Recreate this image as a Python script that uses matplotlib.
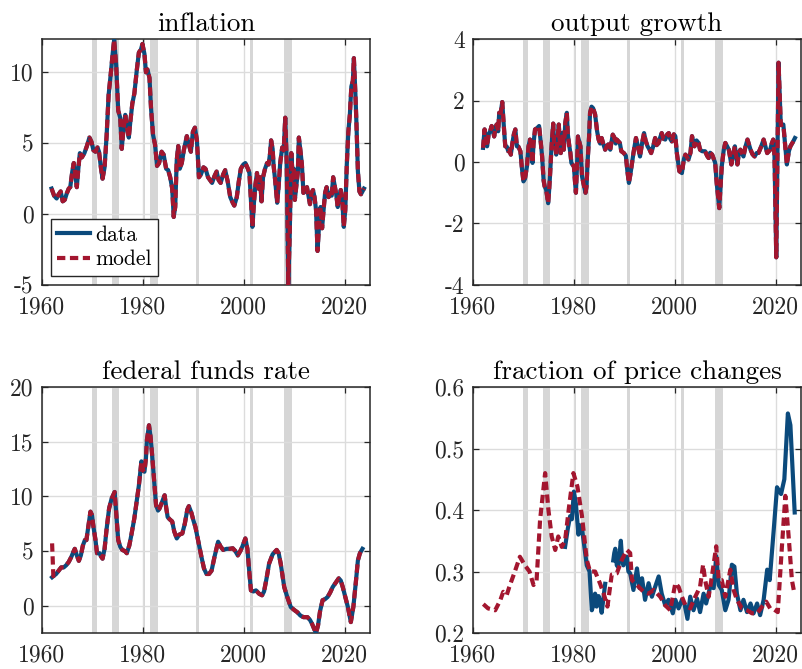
import numpy as np
import matplotlib
matplotlib.use("Agg")
import matplotlib.pyplot as plt

# NBER recessions (start, end)
recessions = [(1969.9, 1970.9), (1973.9, 1975.2), (1980.0, 1980.5), (1981.5, 1982.9),
              (1990.5, 1991.2), (2001.2, 2001.9), (2007.9, 2009.5), (2020.1, 2020.3)]

# inflation (data and model coincide)
infl_years = [1961.9, 1962.4, 1962.9, 1963.3, 1963.7, 1964.1, 1964.5, 1964.9, 1965.3, 1965.6,
              1966.0, 1966.3, 1966.6, 1966.9, 1967.2, 1967.5, 1967.9, 1968.4, 1968.9, 1969.4,
              1969.8, 1970.2, 1970.6, 1971.0, 1971.3, 1971.7, 1972.0, 1972.4, 1972.8, 1973.2,
              1973.6, 1974.0, 1974.3, 1974.7, 1975.1, 1975.5, 1975.8, 1976.1, 1976.5, 1976.9,
              1977.2, 1977.5, 1977.9, 1978.3, 1978.8, 1979.2, 1979.6, 1979.9, 1980.3, 1980.6,
              1980.9, 1981.3, 1981.6, 1982.0, 1982.4, 1982.8, 1983.2, 1983.7, 1984.1, 1984.6,
              1985.0, 1985.4, 1985.8, 1986.1, 1986.4, 1986.7, 1987.0, 1987.3, 1987.7, 1988.1,
              1988.7, 1989.1, 1989.5, 1989.9, 1990.3, 1990.7, 1991.1, 1991.5, 1992.0, 1992.4,
              1992.9, 1993.3, 1993.7, 1994.2, 1994.6, 1995.0, 1995.4, 1995.9, 1996.3, 1996.8,
              1997.3, 1997.8, 1998.1, 1998.6, 1999.0, 1999.4, 1999.9, 2000.3, 2000.8, 2001.1,
              2001.4, 2001.7, 2002.0, 2002.3, 2002.6, 2002.9, 2003.2, 2003.5, 2003.8, 2004.2,
              2004.6, 2004.9, 2005.2, 2005.4, 2005.7, 2005.9, 2006.2, 2006.6, 2006.9, 2007.2,
              2007.6, 2007.9, 2008.2, 2008.5, 2008.8, 2009.1, 2009.4, 2009.7, 2009.9, 2010.1,
              2010.4, 2010.7, 2010.9, 2011.2, 2011.5, 2011.8, 2012.2, 2012.5, 2012.8, 2013.1,
              2013.4, 2013.7, 2014.0, 2014.3, 2014.6, 2014.9, 2015.2, 2015.5, 2015.8, 2016.1,
              2016.4, 2016.8, 2017.1, 2017.4, 2017.7, 2018.0, 2018.3, 2018.6, 2018.9, 2019.2,
              2019.5, 2019.8, 2020.1, 2020.4, 2020.7, 2021.0, 2021.3, 2021.6, 2021.8, 2022.1,
              2022.3, 2022.6, 2022.9, 2023.2, 2023.5, 2023.8]
infl_values = [1.8, 1.3, 1.1, 1.4, 1.6, 0.9, 1.0, 1.45, 1.8, 1.9,
               3.0, 3.6, 2.8, 1.9, 3.2, 4.3, 4.0, 4.3, 4.8, 5.4,
               5.1, 4.5, 4.4, 4.7, 4.4, 3.2, 2.5, 3.3, 5.5, 8.4,
               9.8, 11.3, 12.3, 10.5, 7.3, 6.8, 4.6, 5.8, 7.0, 6.0,
               5.4, 6.5, 7.8, 8.5, 10.2, 11.4, 11.6, 12.0, 11.3, 10.0,
               10.2, 9.6, 7.5, 5.6, 4.9, 3.4, 3.6, 4.4, 4.2, 3.2,
               3.1, 2.6, 1.8, -0.2, 0.5, 3.8, 4.8, 3.2, 3.6, 4.5,
               5.5, 4.9, 4.4, 5.8, 6.1, 5.2, 2.6, 2.8, 3.3, 3.2,
               2.6, 2.4, 2.2, 2.7, 3.0, 2.4, 2.2, 2.8, 3.1, 2.3,
               1.2, 0.8, 0.6, 1.2, 2.3, 3.2, 3.5, 3.6, 3.2, 2.9,
               1.0, -0.9, 0.8, 2.1, 2.9, 1.8, 2.6, 0.9, 2.6, 3.2,
               3.6, 3.5, 4.3, 5.2, 4.6, 3.4, 2.4, 0.8, 2.0, 3.6,
               4.7, 4.5, 6.8, 3.6, -5.0, -1.2, 4.3, 2.5, 3.2, 1.0,
               2.0, 3.0, 5.4, 4.5, 3.5, 1.5, 1.6, 1.9, 1.3, 0.7,
               1.5, 1.7, 1.2, 0.3, -2.6, -0.8, 0.5, -1.0, 0.3, 1.5,
               1.9, 1.2, 1.5, 1.3, 2.6, 2.0, 1.4, 0.5, 1.2, 1.7,
               1.0, -0.9, 0.3, 3.5, 5.8, 7.0, 9.0, 9.4, 11.0, 8.5,
               6.5, 3.0, 1.6, 1.4, 1.6, 1.8]

# output growth (data and model coincide)
gdp_years = [1962.0, 1962.3, 1962.6, 1962.8, 1963.1, 1963.4, 1963.7, 1964.0, 1964.2, 1964.5,
             1964.7, 1965.0, 1965.2, 1965.5, 1965.8, 1966.1, 1966.4, 1966.7, 1967.0, 1967.3,
             1967.5, 1967.8, 1968.1, 1968.4, 1968.7, 1969.0, 1969.4, 1969.7, 1970.0, 1970.3,
             1970.7, 1971.0, 1971.3, 1971.6, 1971.8, 1972.0, 1972.3, 1972.7, 1973.1, 1973.4,
             1973.7, 1974.0, 1974.2, 1974.5, 1974.9, 1975.1, 1975.3, 1975.5, 1975.7, 1975.9,
             1976.1, 1976.3, 1976.5, 1976.8, 1977.0, 1977.2, 1977.4, 1977.6, 1977.8, 1978.0,
             1978.3, 1978.6, 1978.8, 1979.1, 1979.3, 1979.5, 1979.8, 1980.0, 1980.2, 1980.4,
             1980.6, 1980.8, 1981.0, 1981.3, 1981.6, 1981.9, 1982.3, 1982.5, 1982.7, 1983.0,
             1983.2, 1983.5, 1983.8, 1984.2, 1984.6, 1984.9, 1985.2, 1985.5, 1985.8, 1986.2,
             1986.5, 1986.8, 1987.2, 1987.5, 1987.7, 1988.0, 1988.3, 1988.5, 1989.1, 1989.4,
             1989.9, 1990.3, 1990.6, 1990.9, 1991.2, 1991.8, 1992.3, 1992.7, 1993.1, 1993.5,
             1993.9, 1994.2, 1994.6, 1995.0, 1995.3, 1995.7, 1996.1, 1996.4, 1996.8, 1997.1,
             1997.4, 1997.8, 1998.1, 1998.5, 1998.8, 1999.1, 1999.4, 1999.8, 2000.1, 2000.4,
             2000.9, 2001.4, 2001.8, 2002.1, 2002.7, 2003.1, 2003.4, 2003.9, 2004.3, 2004.7,
             2005.0, 2005.4, 2006.0, 2006.4, 2006.7, 2007.0, 2007.4, 2008.0, 2008.3, 2008.8,
             2009.3, 2009.7, 2010.0, 2010.4, 2010.7, 2011.2, 2011.6, 2011.9, 2012.4, 2012.7,
             2013.0, 2013.6, 2014.0, 2014.4, 2015.0, 2015.4, 2015.8, 2016.2, 2016.6, 2017.1,
             2017.6, 2018.3, 2018.9, 2019.2, 2019.5, 2019.75, 2020.1, 2020.55, 2021.0, 2021.5,
             2022.2, 2022.6, 2022.9, 2023.4, 2023.8]
gdp_values = [0.46, 1.06, 0.7, 0.51, 0.9, 1.0, 1.17, 1.0, 0.83, 1.15,
              1.22, 1.0, 1.6, 1.6, 1.95, 1.2, 0.51, 0.5, 0.35, 0.4,
              0.24, 0.6, 0.9, 1.06, 0.51, 0.5, 0.35, -0.2, -0.63, -0.55,
              -0.14, 0.5, 0.73, 0.3, -0.03, 0.6, 1.06, 1.1, 1.17, 0.7,
              0.18, -0.6, -0.79, -0.9, -1.34, -0.9, -0.35, 0.3, 0.83, 1.25,
              0.57, 0.6, 0.24, 0.8, 1.22, 0.7, 0.29, 0.7, 0.95, 0.4,
              1.28, 1.6, 0.9, 0.51, 0.3, -0.03, -0.1, -0.14, -0.6, -1.0,
              -0.2, 0.83, 0.7, 0.51, -0.46, -0.7, -1.0, -0.8, -0.03, 0.8,
              1.6, 1.8, 1.75, 1.55, 1.0, 0.73, 0.6, 0.78, 0.6, 0.4,
              0.5, 0.57, 0.4, 0.7, 0.89, 0.8, 0.6, 0.73, 0.62, 0.35,
              0.29, 0.2, -0.3, -0.68, -0.4, 0.29, 0.78, 0.5, 0.18, 0.6,
              0.94, 0.7, 0.51, 0.4, 0.29, 0.5, 0.78, 0.55, 0.62, 0.8,
              0.94, 0.75, 0.73, 0.9, 0.94, 0.75, 0.67, 0.9, 0.84, 0.29,
              -0.3, -0.36, 0.1, 0.24, 0.08, 0.3, 0.84, 0.51, 0.7, 0.62,
              0.4, 0.35, 0.35, 0.2, 0.13, 0.3, 0.24, -0.03, -0.69, -1.5,
              -0.14, 0.4, 0.62, 0.5, 0.4, -0.08, 0.3, 0.51, -0.08, 0.3,
              0.4, 0.18, 0.5, 0.73, 0.4, 0.25, 0.18, 0.29, 0.3, 0.5,
              0.73, 0.29, 0.4, 0.6, 0.73, 0.2, -3.1, 3.23, 1.2, 1.22,
              -0.08, 0.35, 0.51, 0.65, 0.78]

# federal funds rate
ffr_years = [1962.0, 1962.25, 1962.8, 1963.3, 1963.8, 1964.3, 1964.8, 1965.3, 1965.8, 1966.2,
             1966.5, 1966.9, 1967.3, 1967.7, 1968.1, 1968.5, 1968.8, 1969.2, 1969.6, 1969.9,
             1970.2, 1970.6, 1970.9, 1971.4, 1971.7, 1972.0, 1972.4, 1972.8, 1973.3, 1973.8,
             1974.4, 1974.7, 1975.1, 1975.5, 1975.9, 1976.4, 1976.8, 1977.3, 1977.7, 1978.3,
             1978.8, 1979.2, 1979.7, 1980.0, 1980.3, 1980.6, 1980.8, 1981.2, 1981.5, 1981.8,
             1982.2, 1982.6, 1983.0, 1983.3, 1983.8, 1984.3, 1984.6, 1984.9, 1985.3, 1985.8,
             1986.2, 1986.7, 1987.2, 1987.8, 1988.3, 1988.8, 1989.1, 1989.6, 1990.0, 1990.4,
             1991.0, 1991.6, 1992.1, 1992.6, 1993.1, 1993.6, 1994.2, 1994.9, 1995.4, 1995.9,
             1996.6, 1997.2, 1997.8, 1998.3, 1998.8, 1999.3, 1999.7, 2000.3, 2000.7, 2001.0,
             2001.4, 2001.9, 2002.4, 2003.0, 2003.6, 2004.0, 2004.5, 2005.0, 2005.7, 2006.5,
             2006.9, 2007.3, 2007.7, 2008.0, 2008.6, 2009.3, 2010.0, 2010.6, 2011.2, 2011.8,
             2012.6, 2013.1, 2013.5, 2014.0, 2014.3, 2014.7, 2015.1, 2015.6, 2016.1, 2016.6,
             2017.1, 2017.6, 2018.2, 2018.8, 2019.2, 2019.6, 2020.1, 2020.6, 2021.2, 2021.7,
             2022.2, 2022.6, 2023.0, 2023.5]
ffr_data = [2.6, 2.7, 2.9, 3.2, 3.5, 3.5, 3.7, 4.0, 4.45, 4.9,
            5.2, 4.6, 4.1, 4.6, 5.5, 6.0, 6.0, 7.3, 8.6, 8.3,
            7.2, 6.0, 4.8, 4.8, 4.5, 4.3, 5.2, 7.0, 8.9, 9.8,
            10.4, 8.5, 6.0, 5.4, 5.1, 5.0, 4.8, 5.5, 6.45, 8.0,
            9.66, 11.0, 13.2, 12.4, 12.25, 13.5, 15.2, 16.5, 15.5, 13.9,
            11.5, 9.2, 8.7, 8.9, 9.5, 10.1, 9.0, 8.1, 7.9, 7.7,
            6.8, 6.15, 6.5, 6.6, 7.5, 8.8, 9.1, 8.5, 7.8, 7.2,
            5.8, 4.45, 3.4, 2.9, 2.9, 3.2, 4.5, 5.85, 5.4, 5.1,
            5.2, 5.2, 5.25, 5.0, 4.6, 5.0, 5.4, 6.15, 5.2, 3.5,
            1.4, 1.3, 1.4, 1.1, 0.95, 1.3, 2.5, 3.85, 4.7, 5.1,
            4.8, 3.85, 2.6, 1.7, 0.8, -0.13, -0.4, -0.6, -0.9, -1.05,
            -1.05, -1.3, -1.65, -2.2, -2.5, -1.8, -0.5, 0.5, 0.6, 0.8,
            1.2, 1.7, 2.1, 2.5, 2.3, 1.7, 0.8, -0.1, -1.5, -0.1,
            2.2, 4.15, 4.8, 5.2]
ffr_model_first = 5.7

# fraction of price changes
freq_data_years = [1978.25, 1978.8, 1979.25, 1979.6, 1980.0, 1980.4, 1980.9, 1981.2, 1981.6, 1982.0,
                   1982.55, 1983.1, 1983.55, 1984.0, 1984.2, 1984.5, 1984.9, 1985.2, 1985.5, 1985.9,
                   1986.2, 1987.0,
                   1987.8, 1988.0, 1988.2, 1988.5, 1988.8, 1989.3, 1989.55, 1989.8, 1990.2, 1990.5,
                   1990.8, 1991.15, 1991.8, 1992.5, 1993.0, 1993.5, 1994.1, 1994.8, 1995.45, 1996.1,
                   1996.8, 1997.4, 1998.1, 1998.75, 1999.6, 2000.1, 2000.75, 2001.4, 2001.9, 2002.5,
                   2003.05, 2003.7, 2004.4, 2005.0, 2005.7, 2006.2, 2007.0, 2007.7, 2008.2, 2008.7,
                   2009.3, 2010.0, 2010.65, 2011.3, 2011.8, 2012.3, 2013.0, 2013.6, 2014.3, 2015.0,
                   2015.6, 2016.3, 2016.9, 2017.6, 2018.3, 2018.8, 2019.6, 2020.25, 2021.05, 2021.7,
                   2022.4, 2022.9, 2023.75]
freq_data = [0.34, 0.37, 0.39, 0.385, 0.43, 0.41, 0.36, 0.375, 0.37, 0.345,
             0.31, 0.30, 0.237, 0.25, 0.264, 0.243, 0.26, 0.25, 0.233, 0.26,
             0.28, np.nan,
             0.318, 0.33, 0.337, 0.31, 0.307, 0.35, 0.32, 0.31, 0.32, 0.324,
             0.30, 0.297, 0.27, 0.305, 0.273, 0.289, 0.254, 0.281, 0.259, 0.275,
             0.292, 0.264, 0.245, 0.254, 0.232, 0.254, 0.24, 0.254, 0.248, 0.223,
             0.259, 0.237, 0.256, 0.234, 0.264, 0.248, 0.275, 0.273, 0.325, 0.278,
             0.27, 0.237, 0.254, 0.311, 0.308, 0.264, 0.237, 0.254, 0.234, 0.248,
             0.232, 0.248, 0.229, 0.254, 0.303, 0.286, 0.368, 0.437, 0.426, 0.45,
             0.557, 0.538, 0.396]

freq_model_years = [1962.05, 1963.0, 1964.4, 1965.4, 1966.0, 1966.7, 1967.2, 1968.3, 1969.3, 1970.3,
                    1971.2, 1972.0, 1972.6, 1973.3, 1974.3, 1974.95, 1975.6, 1976.3, 1976.9, 1977.6,
                    1978.25, 1979.05, 1979.9, 1980.7, 1981.6, 1982.55, 1983.2, 1984.2, 1985.2, 1985.9,
                    1986.65, 1987.5, 1988.5, 1989.5, 1990.5, 1991.15, 1991.5, 1992.5, 1993.8, 1994.8,
                    1995.8, 1997.1, 1998.1, 1999.1, 2000.1, 2000.75, 2001.4, 2002.1, 2003.05, 2004.05,
                    2005.0, 2005.6, 2006.0, 2006.7, 2007.35, 2008.2, 2008.7, 2009.3, 2010.0, 2011.0,
                    2011.65, 2012.3, 2013.3, 2014.3, 2015.3, 2016.3, 2017.3, 2018.1, 2018.9, 2019.7,
                    2020.4, 2021.2, 2021.9, 2022.6, 2023.2, 2023.7]
freq_model = [0.247, 0.24, 0.237, 0.253, 0.267, 0.262, 0.275, 0.30, 0.324, 0.31,
              0.30, 0.278, 0.285, 0.384, 0.46, 0.40, 0.357, 0.335, 0.357, 0.34,
              0.35, 0.406, 0.46, 0.438, 0.39, 0.319, 0.30, 0.30, 0.28, 0.264,
              0.243, 0.295, 0.297, 0.319, 0.335, 0.33, 0.286, 0.278, 0.267, 0.264,
              0.27, 0.259, 0.245, 0.237, 0.281, 0.275, 0.259, 0.245, 0.24, 0.259,
              0.275, 0.311, 0.286, 0.259, 0.292, 0.341, 0.286, 0.286, 0.259, 0.303,
              0.27, 0.254, 0.24, 0.237, 0.232, 0.232, 0.243, 0.251, 0.24, 0.238,
              0.234, 0.338, 0.423, 0.352, 0.286, 0.264]

BLUE = '#0b4a7c'
RED = '#a3162f'

plt.rcParams['font.family'] = ['cmr10', 'DejaVu Serif']
plt.rcParams['axes.unicode_minus'] = False
plt.rcParams['axes.formatter.use_mathtext'] = False

fig = plt.figure(figsize=(8.03, 6.69), dpi=100)
w, h = 0.4085, 0.3677
positions = [(0.0523, 0.574), (0.589, 0.574), (0.0523, 0.0538), (0.589, 0.0538)]


def setup(ax, title, ylim, yticks):
    for a, b in recessions:
        ax.axvspan(a, b, color='#d6d6d6', lw=0, zorder=0)
    ax.set_xlim(1960, 2025)
    ax.set_ylim(*ylim)
    ax.set_xticks([1960, 1980, 2000, 2020])
    ax.set_yticks(yticks)
    ax.grid(True, color='#dcdcdc', lw=1.0, zorder=0.5)
    ax.set_axisbelow(True)
    ax.tick_params(direction='in', length=4, width=0.9, top=True, right=True,
                   labelsize=17, colors='#262626')
    ax.tick_params(axis='x', pad=8)
    ax.tick_params(axis='y', pad=6)
    for s in ax.spines.values():
        s.set_color('#262626')
        s.set_linewidth(1.1)
    ax.set_title(title, fontsize=19.5, pad=6)


def draw(ax, x, yd, xm, ym):
    ax.plot(x, yd, color=BLUE, lw=3.0, zorder=3, label='data')
    ax.plot(xm, ym, color=RED, lw=3.0, dashes=(2.0, 1.1), zorder=4, label='model')


ax1 = fig.add_axes([*positions[0], w, h])
setup(ax1, 'inflation', (-5, 12.35), [-5, 0, 5, 10])
draw(ax1, infl_years, infl_values, infl_years, infl_values)
leg = ax1.legend(loc='lower left', bbox_to_anchor=(0.027, 0.037), borderaxespad=0,
                 fontsize=15.5, handlelength=1.5, handletextpad=0.25, borderpad=0.3,
                 labelspacing=0.25, fancybox=False, framealpha=1)
leg.get_frame().set_edgecolor('#262626')
leg.get_frame().set_linewidth(1.0)

ax2 = fig.add_axes([*positions[1], w, h])
setup(ax2, 'output growth', (-4, 4), [-4, -2, 0, 2, 4])
draw(ax2, gdp_years, gdp_values, gdp_years, gdp_values)

ax3 = fig.add_axes([*positions[2], w, h])
setup(ax3, 'federal funds rate', (-2.5, 20), [0, 5, 10, 15, 20])
ffr_model = [ffr_model_first] + ffr_data[1:]
draw(ax3, ffr_years, ffr_data, ffr_years, ffr_model)

ax4 = fig.add_axes([*positions[3], w, h])
setup(ax4, 'fraction of price changes', (0.2, 0.6), [0.2, 0.3, 0.4, 0.5, 0.6])
draw(ax4, freq_data_years, freq_data, freq_model_years, freq_model)

fig.savefig('out.png', dpi=100)
